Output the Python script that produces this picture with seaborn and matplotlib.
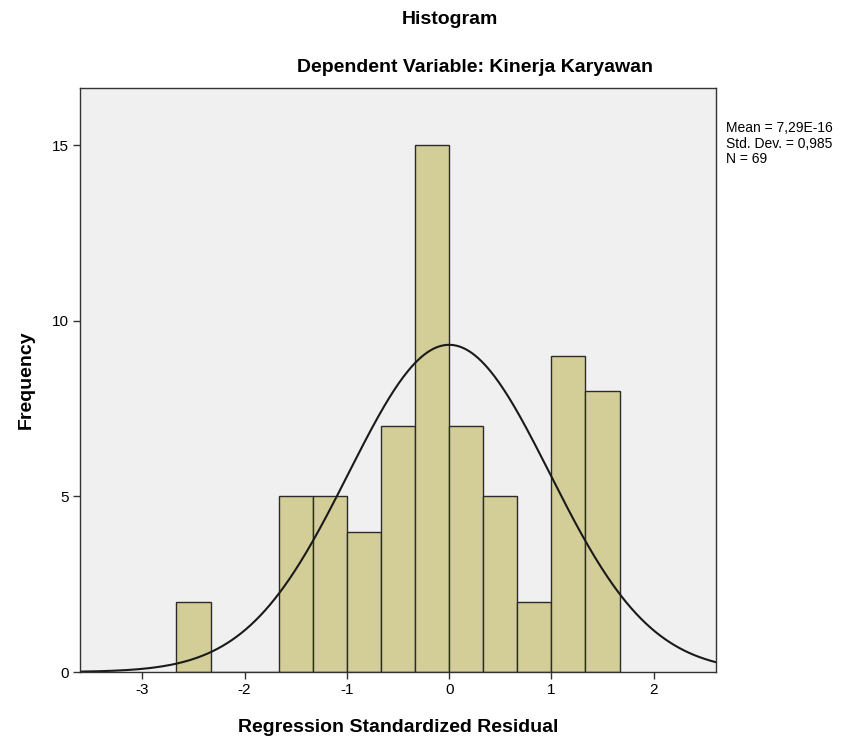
import numpy as np
import pandas as pd
import matplotlib
matplotlib.use("Agg")
import matplotlib.pyplot as plt
import seaborn as sns

# Data
bin_edges = [-2.6667, -2.3333, -2.0, -1.6667, -1.3333, -1.0, -0.6667, -0.3333,
             0.0, 0.3333, 0.6667, 1.0, 1.3333, 1.6667]
bin_counts = [2, 0, 0, 5, 5, 4, 7, 15, 7, 5, 2, 9, 8]
mean_val = 7.29e-16
std_val = 0.985
n_val = 69
x_ticks = [-3, -2, -1, 0, 1, 2]
y_ticks = [0, 5, 10, 15]

sns.set_theme(style="white")
plt.rcParams['font.family'] = ['Liberation Sans', 'DejaVu Sans']
plt.rcParams['text.color'] = 'black'
plt.rcParams['axes.labelcolor'] = 'black'
plt.rcParams['xtick.color'] = 'black'
plt.rcParams['ytick.color'] = 'black'

centers = [(bin_edges[i] + bin_edges[i + 1]) / 2 for i in range(len(bin_counts))]
df = pd.DataFrame({"x": centers, "w": bin_counts})

fig = plt.figure(figsize=(8.6, 7.42), dpi=100)
ax = fig.add_axes([80 / 860, 70 / 742, 636 / 860, 584 / 742])
ax.set_facecolor("#F0F0F0")

sns.histplot(data=df, x="x", weights="w", bins=bin_edges, ax=ax,
             color="#D3CE97", alpha=1, edgecolor="#2b2b2b", linewidth=1)

bw = bin_edges[1] - bin_edges[0]
xs = np.linspace(-3.61, 2.61, 400)
ys = n_val * bw / (std_val * np.sqrt(2 * np.pi)) * np.exp(-0.5 * ((xs - mean_val) / std_val) ** 2)
sns.lineplot(x=xs, y=ys, ax=ax, color="#1a1a1a", linewidth=1.5)

ax.set_xlim(-3.61, 2.61)
ax.set_ylim(0, 16.63)
ax.set_xticks(x_ticks)
ax.set_xticklabels([str(t) for t in x_ticks])
ax.set_yticks(y_ticks)
ax.set_yticklabels([str(t) for t in y_ticks])
ax.tick_params(axis="both", direction="out", length=5, width=1, color="#333333",
               labelcolor="black", labelsize=11, bottom=True, left=True, pad=3)
for s in ax.spines.values():
    s.set_color("#333333")
    s.set_linewidth(1)

ax.set_xlabel("Regression Standardized Residual", fontsize=14, fontweight="bold",
              color="black")
ax.xaxis.set_label_coords(0.5, -(727 - 672) / 584)
ax.xaxis.label.set_va("center")
ax.set_ylabel("Frequency", fontsize=14, fontweight="bold", color="black")
ax.yaxis.set_label_coords(-(80 - 26) / 636, 0.5)
ax.yaxis.label.set_va("center")

fig.text(450 / 860, 1 - 20 / 742, "Histogram", ha="center", va="center",
         fontsize=14, fontweight="bold", color="black")
fig.text(475 / 860, 1 - 68 / 742, "Dependent Variable: Kinerja Karyawan", ha="center",
         va="center", fontsize=14, fontweight="bold", color="black")

fig.text(726 / 860, 1 - 121 / 742,
         "Mean = 7,29E-16\nStd. Dev. = 0,985\nN = 69",
         ha="left", va="top", fontsize=10, linespacing=1.15, color="black")

fig.savefig("out.png", dpi=100, facecolor="white")
